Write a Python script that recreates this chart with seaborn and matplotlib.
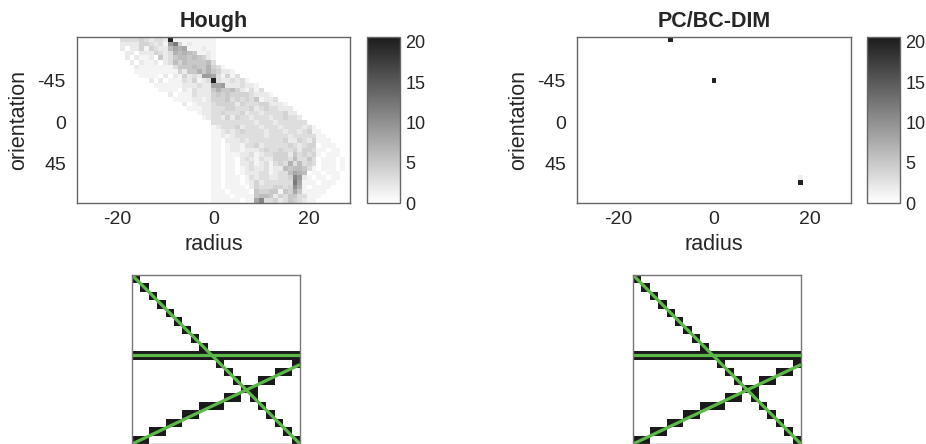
import numpy as np
import matplotlib
matplotlib.use('Agg')
import matplotlib.pyplot as plt
import seaborn as sns
from matplotlib.colors import LinearSegmentedColormap, ListedColormap

# ---- data ----
# binary test image (20x20): row index of the black pixel in each column
img_size = 20
cols = [0, 1, 2, 3, 4, 5, 6, 7, 8, 9, 10, 11, 12, 13, 14, 15, 16, 17, 18, 19]
horiz_rows = [9, 9, 9, 9, 9, 9, 9, 9, 9, 9, 9, 9, 9, 9, 9, 9, 9, 9, 9, 9]
diag_rows = [0, 1, 2, 3, 4, 5, 6, 7, 8, 9, 10, 11, 12, 13, 14, 15, 16, 17, 18, 19]
rise_rows = [19, 19, 18, 18, 17, 17, 16, 16, 15, 15, 15, 14, 14, 13, 13, 12, 12, 11, 11, 10]

# detected lines drawn in green (image coordinates)
line_x0 = [0, 0, 0]
line_y0 = [9.5, 0, 20]
line_x1 = [20, 20, 20]
line_y1 = [9.5, 20, 10.6]

# PC/BC-DIM response: radius, orientation, value
pc_radius = [-9, 0, 18, 18]
pc_orient = [-90, -45, 65, 60]
pc_value = [20, 20, 20, 1.5]

# accumulator grid
theta_deg = np.arange(-90, 90, 5)
rho_vals = np.arange(-28, 29)

# ---- build arrays ----
img = np.zeros((img_size, img_size))
img[horiz_rows, cols] = 1
img[diag_rows, cols] = 1
img[rise_rows, cols] = 1

# Hough accumulator of the test image
ys, xs = np.nonzero(img)
t = np.deg2rad(theta_deg)
rho = np.round(xs[:, None] * np.cos(t) + ys[:, None] * np.sin(t)).astype(int)
hough = np.zeros((len(theta_deg), len(rho_vals)))
for k in range(len(theta_deg)):
    np.add.at(hough[k], rho[:, k] - rho_vals[0], 1)

pcbc = np.zeros_like(hough)
for r, o, v in zip(pc_radius, pc_orient, pc_value):
    pcbc[list(theta_deg).index(o), r - rho_vals[0]] = v

# ---- plotting ----
sns.set_theme(style='white')
plt.rcParams['font.family'] = ['Liberation Sans', 'DejaVu Sans']
txt = '#262626'
edge = '#666666'

cmap = LinearSegmentedColormap.from_list('grey_acc', ['#ffffff', '#1c1c1c'])
bw = ListedColormap(['#ffffff', '#1a1a1a'])

fig = plt.figure(figsize=(9.26, 4.44), dpi=100)
W, H = 926, 444


def rect(x0, y0, x1, y1):
    return [x0 / W, 1 - y1 / H, (x1 - x0) / W, (y1 - y0) / H]


panels = [
    ('Hough', hough, rect(77, 37, 350, 203), rect(367, 37, 400, 203), rect(132, 275, 300, 444)),
    ('PC/BC-DIM', pcbc, rect(577, 37, 851, 203), rect(867, 37, 900, 203), rect(633, 275, 801, 444)),
]

for title, data, pos, cpos, ipos in panels:
    ax = fig.add_axes(pos)
    cax = fig.add_axes(cpos)
    sns.heatmap(data, ax=ax, cbar_ax=cax, cmap=cmap, vmin=0, vmax=20.6,
                xticklabels=False, yticklabels=False,
                cbar_kws={'ticks': [0, 5, 10, 15, 20]})
    ax.set_xticks([r - rho_vals[0] + 0.5 for r in [-20, 0, 20]])
    ax.set_xticklabels(['-20', '0', '20'])
    ax.set_yticks([(o - theta_deg[0]) / 5 + 0.5 for o in [-45, 0, 45]])
    ax.set_yticklabels(['-45', '0', '45'], rotation=0)
    ax.tick_params(axis='both', direction='in', length=4, width=0.8, color=edge,
                   labelsize=14, labelcolor=txt, top=True, right=True)
    ax.tick_params(axis='x', pad=6)
    ax.tick_params(axis='y', pad=8)
    for s in ax.spines.values():
        s.set_visible(True)
        s.set_color(edge)
        s.set_linewidth(1)
    ax.set_title(title, fontsize=15.5, fontweight='bold', color=txt, pad=7)
    ax.set_xlabel('radius', fontsize=15.5, color=txt, labelpad=4)
    ax.set_ylabel('orientation', fontsize=15.5, color=txt, labelpad=6)

    cbar = ax.collections[0].colorbar
    cbar.outline.set_edgecolor(edge)
    cbar.outline.set_linewidth(1)
    cax.tick_params(direction='in', length=3, color=edge, labelsize=13,
                    labelcolor=txt, pad=4)

    iax = fig.add_axes(ipos)
    sns.heatmap(img, ax=iax, cmap=bw, vmin=0, vmax=1, cbar=False,
                xticklabels=False, yticklabels=False)
    for s in iax.spines.values():
        s.set_visible(True)
        s.set_color('#777777')
        s.set_linewidth(1)
    for x0, y0, x1, y1 in zip(line_x0, line_y0, line_x1, line_y1):
        iax.plot([x0, x1], [y0, y1], color='#5cb848', lw=2.3, solid_capstyle='butt')
    iax.set_xlim(0, img_size)
    iax.set_ylim(img_size, 0)

fig.savefig('out.png', dpi=100)
